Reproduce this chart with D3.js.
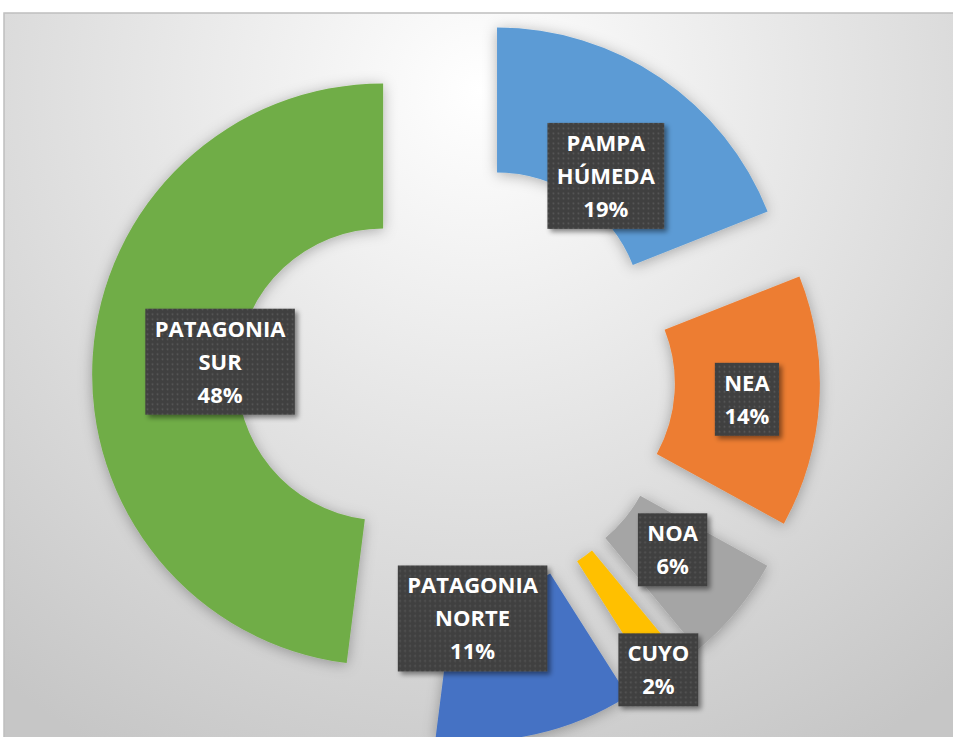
<!DOCTYPE html>
<html>
<head>
<meta charset="utf-8">
<script src="https://cdn.jsdelivr.net/npm/d3@7/dist/d3.min.js"></script>
<style>
	body { margin: 0; background: #fff; }
	svg { display: block; }
</style>
</head>
<body>
<svg id="chart" width="953" height="737"></svg>
<script>
// data
const regions = ['PAMPA HÚMEDA', 'NEA', 'NOA', 'CUYO', 'PATAGONIA NORTE', 'PATAGONIA SUR']
const shares = [19, 14, 6, 2, 11, 48]
const colors = ['#5b9bd5', '#ed7d31', '#a5a5a5', '#ffc000', '#4472c4', '#70ad47']

// excel moved some labels away from the centroid
const labelNudge = [[-14, 38], [0, 2], [-8, -15], [31, 55], [-47, -45], [55, 1]]

const width = 953
const height = 737
const center = { x: 456, y: 379 }
const outerR = 291
const innerR = 146
const explode = 73
const lineH = 33

const svg = d3.select('#chart')
const defs = svg.append('defs')

const bg = defs.append('radialGradient')
	.attr('id', 'bg')
	.attr('gradientUnits', 'userSpaceOnUse')
	.attr('cx', 480).attr('cy', 90).attr('r', 760)
bg.append('stop').attr('offset', 0).attr('stop-color', '#ffffff')
bg.append('stop').attr('offset', 0.35).attr('stop-color', '#ebebeb')
bg.append('stop').attr('offset', 1).attr('stop-color', '#c6c6c6')

const sliceShadow = defs.append('filter').attr('id', 'sliceShadow')
	.attr('x', '-20%').attr('y', '-20%').attr('width', '140%').attr('height', '140%')
sliceShadow.append('feDropShadow')
	.attr('dx', 0).attr('dy', 2).attr('stdDeviation', 7)
	.attr('flood-color', '#000').attr('flood-opacity', 0.3)

const boxShadow = defs.append('filter').attr('id', 'boxShadow')
	.attr('x', '-20%').attr('y', '-20%').attr('width', '140%').attr('height', '140%')
boxShadow.append('feDropShadow')
	.attr('dx', 3).attr('dy', 3).attr('stdDeviation', 2.5)
	.attr('flood-color', '#000').attr('flood-opacity', 0.45)

const dots = defs.append('pattern').attr('id', 'dots')
	.attr('patternUnits', 'userSpaceOnUse')
	.attr('width', 5).attr('height', 5)
dots.append('rect').attr('width', 5).attr('height', 5).attr('fill', '#404040')
dots.append('circle').attr('cx', 2.5).attr('cy', 2.5).attr('r', 0.9).attr('fill', '#595959')

svg.append('rect')
	.attr('x', 4).attr('y', 13)
	.attr('width', width + 20).attr('height', height + 20)
	.attr('fill', 'url(#bg)')
	.attr('stroke', '#bfbfbf')
	.attr('stroke-width', 1.5)

const data = regions.map((r, i) => ({ region: r, share: shares[i], color: colors[i], nudge: labelNudge[i] }))

const pie = d3.pie()
	.sort(null)
	.value(d => d.share)

const arc = d3.arc()
	.innerRadius(innerR)
	.outerRadius(outerR)

const arcs = pie(data)

const shift = d => {
	const mid = (d.startAngle + d.endAngle) / 2
	return [explode * Math.sin(mid), -explode * Math.cos(mid)]
}

svg.append('g')
	.attr('transform', `translate(${center.x},${center.y})`)
	.selectAll('path')
	.data(arcs)
	.enter()
	.append('path')
	.attr('transform', d => `translate(${shift(d)})`)
	.attr('d', arc)
	.attr('fill', d => d.data.color)
	.attr('filter', 'url(#sliceShadow)')

const labels = svg.append('g')
	.attr('transform', `translate(${center.x},${center.y})`)
	.selectAll('g')
	.data(arcs)
	.enter()
	.append('g')
	.attr('transform', d => {
		const c = arc.centroid(d)
		const s = shift(d)
		return `translate(${c[0] + s[0] + d.data.nudge[0]},${c[1] + s[1] + d.data.nudge[1]})`
	})

const box = labels.append('rect')
	.attr('fill', 'url(#dots)')
	.attr('filter', 'url(#boxShadow)')

const text = labels.append('text')
	.attr('text-anchor', 'middle')
	.style('font-family', '"Open Sans", sans-serif')
	.style('font-weight', 'bold')
	.style('font-size', '22px')
	.attr('fill', '#fff')

text.each(function (d) {
	const lines = d.data.region.split(' ').concat([d.data.share + '%'])
	const n = lines.length
	d3.select(this).selectAll('tspan')
		.data(lines)
		.enter()
		.append('tspan')
		.attr('x', 0)
		.attr('y', (l, i) => 8 + (i - (n - 1) / 2) * lineH)
		.text(l => l)
	d.lines = n
})

box.each(function (d) {
	const t = d3.select(this.parentNode).select('text').node()
	const w = t.getBBox().width + 18
	const h = d.lines * lineH + 7
	d3.select(this)
		.attr('x', -w / 2).attr('y', -h / 2)
		.attr('width', w).attr('height', h)
})
</script>
</body>
</html>
